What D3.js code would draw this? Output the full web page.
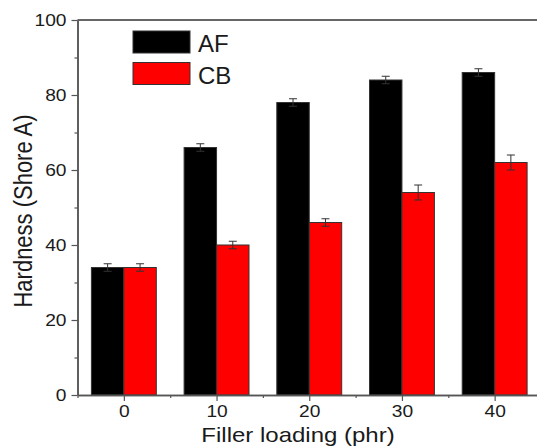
<!DOCTYPE html>
<html>
<head>
<meta charset="utf-8">
<script src="https://cdn.jsdelivr.net/npm/d3@7"></script>
<style>
  body { margin: 0; background: #fff; }
  text { font-family: "Liberation Sans", Arial, sans-serif; fill: #1a1a1a; }
</style>
</head>
<body>
<div id="chart"></div>
<script>
// data
const loading = [0, 10, 20, 30, 40];
const afValues = [34, 66, 78, 84, 86];
const afErrors = [1, 1, 1, 1, 1];
const cbValues = [34, 40, 46, 54, 62];
const cbErrors = [1, 1, 1, 2, 2];
const yTicks = [0, 20, 40, 60, 80, 100];
const yMinor = [10, 30, 50, 70, 90];
const xMinor = [-5, 5, 15, 25, 35, 45];

const width = 537, height = 448;
const barW = 3.5; // in x units
const stretch = 1.2; // glyphs in the original are a bit wide

const svg = d3.select("#chart").append("svg")
    .attr("width", width)
    .attr("height", height);

const x = d3.scaleLinear().domain([-5, 45]).range([77.5, 541]);
const y = d3.scaleLinear().domain([0, 100]).range([395, 20]);

const series = [
    { name: "AF", color: "#000000", values: afValues, errors: afErrors, offset: -barW },
    { name: "CB", color: "#ff0000", values: cbValues, errors: cbErrors, offset: 0 }
];

// bars
series.forEach(s => {
    const g = svg.append("g");
    g.selectAll("rect")
        .data(loading)
        .enter().append("rect")
        .attr("x", (d) => x(d + s.offset))
        .attr("y", (d, i) => y(s.values[i]))
        .attr("width", x(barW) - x(0))
        .attr("height", (d, i) => y(0) - y(s.values[i]))
        .attr("fill", s.color)
        .attr("stroke", "#333")
        .attr("stroke-width", 1);

    // error bars
    const eb = g.selectAll(".err")
        .data(loading)
        .enter().append("g")
        .attr("class", "err");
    const cx = d => x(d + s.offset + barW / 2);
    eb.append("line")
        .attr("x1", cx).attr("x2", cx)
        .attr("y1", (d, i) => y(s.values[i] + s.errors[i]))
        .attr("y2", (d, i) => y(s.values[i] - s.errors[i]));
    eb.append("line")
        .attr("x1", d => cx(d) - 4).attr("x2", d => cx(d) + 4)
        .attr("y1", (d, i) => y(s.values[i] + s.errors[i]))
        .attr("y2", (d, i) => y(s.values[i] + s.errors[i]));
    eb.append("line")
        .attr("x1", d => cx(d) - 4).attr("x2", d => cx(d) + 4)
        .attr("y1", (d, i) => y(s.values[i] - s.errors[i]))
        .attr("y2", (d, i) => y(s.values[i] - s.errors[i]));
    eb.selectAll("line").attr("stroke", "#333").attr("stroke-width", 1);
});

// top frame line
svg.append("line")
    .attr("x1", x(-5)).attr("x2", width)
    .attr("y1", y(100)).attr("y2", y(100))
    .attr("stroke", "#666").attr("stroke-width", 2);

// axes
const yAxis = svg.append("g")
    .attr("transform", `translate(${x(-5)},0)`)
    .call(d3.axisLeft(y).tickValues(yTicks).tickSize(6).tickSizeOuter(0));
svg.append("g")
    .attr("transform", `translate(${x(-5)},0)`)
    .call(d3.axisLeft(y).tickValues(yMinor).tickSize(3).tickFormat("").tickSizeOuter(0));

const xAxis = svg.append("g")
    .attr("transform", `translate(0,${y(0)})`)
    .call(d3.axisBottom(x).tickValues(loading).tickSize(6).tickSizeOuter(0));
svg.append("g")
    .attr("transform", `translate(0,${y(0)})`)
    .call(d3.axisBottom(x).tickValues(xMinor).tickSize(3).tickFormat("").tickSizeOuter(0));

svg.selectAll(".domain").attr("stroke", "#555").attr("stroke-width", 1.5);
svg.selectAll(".tick line").attr("stroke", "#555").attr("stroke-width", 1.2);

yAxis.selectAll("text")
    .attr("x", 0).attr("dy", "0.35em")
    .attr("transform", `translate(-11,0) scale(${stretch},1)`)
    .style("font-size", "16px")
    .style("font-family", "'Liberation Sans', Arial, sans-serif")
    .attr("fill", "#1a1a1a");
xAxis.selectAll("text")
    .attr("y", 0).attr("dy", 0)
    .attr("transform", `translate(0,22) scale(${stretch},1)`)
    .style("font-size", "16px")
    .style("font-family", "'Liberation Sans', Arial, sans-serif")
    .attr("fill", "#1a1a1a");

// axis titles
svg.append("text")
    .attr("transform", `translate(298,442) scale(${stretch},1)`)
    .attr("text-anchor", "middle")
    .style("font-size", "20px")
    .text("Filler loading (phr)");

svg.append("text")
    .attr("transform", `translate(32,211) scale(${stretch},1) rotate(-90)`)
    .attr("text-anchor", "middle")
    .style("font-size", "22px")
    .text("Hardness (Shore A)");

// legend
const legend = svg.append("g");
series.forEach((s, i) => {
    const row = legend.append("g").attr("transform", `translate(133,${31 + i * 31.5})`);
    row.append("rect")
        .attr("width", 57).attr("height", 22)
        .attr("fill", s.color)
        .attr("stroke", "#333").attr("stroke-width", 1);
    row.append("text")
        .attr("x", 65).attr("y", 21)
        .style("font-size", "24px")
        .text(s.name);
});
</script>
</body>
</html>
